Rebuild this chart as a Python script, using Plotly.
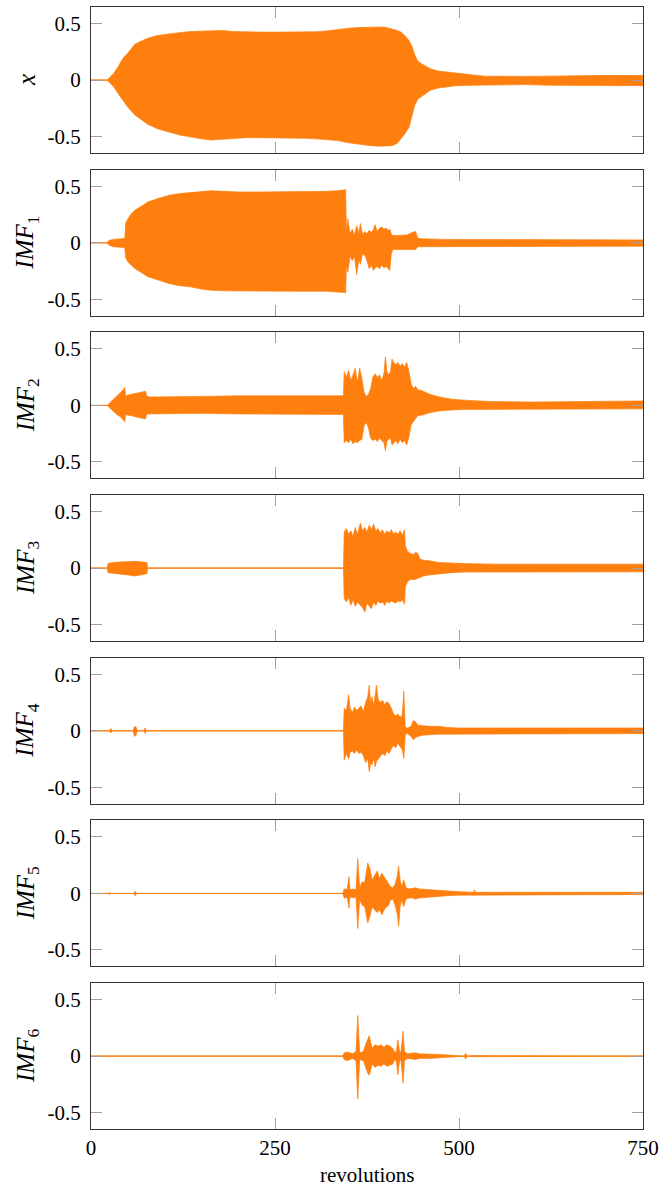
import plotly.graph_objects as go
from plotly.subplots import make_subplots

# ---------------- data (envelopes) ----------------
REV_TICKS = [0, 250, 500, 750]
REV_TICK_TEXT = ["0", "250", "500", "750"]
Y_TICKS = [-0.5, 0, 0.5]
Y_TICK_TEXT = ["-0.5", "0", "0.5"]
X_TITLE = "revolutions"
PANEL_LABELS = ["<i>x</i>", "<i>IMF</i><sub>1</sub>", "<i>IMF</i><sub>2</sub>",
                "<i>IMF</i><sub>3</sub>", "<i>IMF</i><sub>4</sub>",
                "<i>IMF</i><sub>5</sub>", "<i>IMF</i><sub>6</sub>"]

X_SIG = [0, 22, 25, 31, 37, 43, 50, 60, 70, 77, 90, 106, 120, 135, 150, 163, 180, 192, 210, 230,
         260, 290, 306, 320, 335, 350, 364, 380, 392, 400, 409, 416, 421, 427, 432, 436, 440, 444, 449, 455,
         461, 472, 484, 495, 507, 520, 535, 560, 590, 621, 650, 680, 710, 750]
UP_SIG = [0, 0, 0.02, 0.06, 0.12, 0.19, 0.24, 0.32, 0.35, 0.37, 0.395, 0.41, 0.42, 0.43, 0.435, 0.44, 0.44, 0.43, 0.425, 0.425,
          0.425, 0.425, 0.428, 0.435, 0.45, 0.46, 0.465, 0.47, 0.47, 0.468, 0.455, 0.44, 0.425, 0.39, 0.35, 0.30, 0.22, 0.17, 0.145, 0.12,
          0.10, 0.08, 0.07, 0.06, 0.05, 0.045, 0.035, 0.033, 0.033, 0.035, 0.04, 0.04, 0.042, 0.04]
LO_SIG = [0, 0, -0.02, -0.06, -0.12, -0.18, -0.24, -0.31, -0.36, -0.39, -0.43, -0.46, -0.485, -0.505, -0.52, -0.53, -0.525, -0.52, -0.51, -0.51,
          -0.51, -0.515, -0.52, -0.525, -0.535, -0.555, -0.57, -0.58, -0.585, -0.585, -0.58, -0.56, -0.52, -0.47, -0.42, -0.33, -0.22, -0.17, -0.15, -0.12,
          -0.09, -0.07, -0.06, -0.05, -0.047, -0.045, -0.04, -0.04, -0.04, -0.045, -0.045, -0.05, -0.05, -0.05]

X_IMF1 = [0, 22, 24, 30, 40, 46, 47, 50, 55, 60, 70, 77, 90, 106, 120, 135, 150, 163, 180, 200,
          230, 260, 290, 320, 335, 344, 346, 347, 349, 352, 355, 358, 361, 364, 366, 369, 372, 375, 378, 381,
          384, 386, 389, 392, 395, 398, 401, 404, 406, 408, 410, 420, 430, 436, 441, 444, 450, 480, 520, 560,
          600, 650, 700, 750]
UP_IMF1 = [0, 0, 0.02, 0.03, 0.035, 0.04, 0.17, 0.21, 0.26, 0.29, 0.33, 0.36, 0.39, 0.42, 0.435, 0.445, 0.455, 0.46, 0.455, 0.45,
           0.45, 0.45, 0.45, 0.455, 0.46, 0.47, 0.47, 0.10, 0.21, 0.08, 0.12, 0.07, 0.15, 0.09, 0.17, 0.07, 0.1, 0.08, 0.11, 0.09,
           0.12, 0.16, 0.1, 0.13, 0.14, 0.12, 0.13, 0.11, 0.12, 0.08, 0.065, 0.065, 0.07, 0.09, 0.1, 0.04, 0.035, 0.03, 0.03, 0.03,
           0.03, 0.03, 0.03, 0.025]
LO_IMF1 = [0, 0, -0.02, -0.035, -0.04, -0.045, -0.13, -0.17, -0.2, -0.23, -0.27, -0.3, -0.33, -0.36, -0.38, -0.39, -0.41, -0.42, -0.425, -0.43,
           -0.43, -0.43, -0.43, -0.43, -0.435, -0.44, -0.445, -0.2, -0.26, -0.12, -0.16, -0.12, -0.28, -0.15, -0.19, -0.1, -0.11, -0.16, -0.23, -0.2,
           -0.245, -0.22, -0.21, -0.23, -0.2, -0.22, -0.21, -0.23, -0.245, -0.1, -0.06, -0.06, -0.06, -0.06, -0.06, -0.035, -0.03, -0.03, -0.03, -0.03,
           -0.03, -0.03, -0.03, -0.03]

X_IMF2 = [0, 22, 25, 30, 35, 40, 44, 46, 47, 49, 55, 60, 65, 70, 74, 76, 80, 100, 150, 200,
          250, 300, 330, 343, 344, 347, 350, 353, 356, 359, 362, 365, 368, 371, 374, 377, 380, 383, 386, 389,
          392, 395, 398, 400, 402, 404, 407, 409, 411, 414, 417, 420, 423, 426, 429, 432, 435, 438, 441, 444,
          450, 460, 472, 490, 507, 540, 600, 650, 700, 750]
UP_IMF2 = [0, 0, 0.02, 0.05, 0.08, 0.11, 0.14, 0.16, 0.08, 0.09, 0.1, 0.11, 0.115, 0.12, 0.125, 0.08, 0.075, 0.075, 0.08, 0.085,
           0.085, 0.085, 0.085, 0.085, 0.3, 0.25, 0.31, 0.22, 0.27, 0.33, 0.2, 0.33, 0.24, 0.12, 0.08, 0.1, 0.15, 0.25, 0.28, 0.25,
           0.27, 0.22, 0.28, 0.43, 0.3, 0.27, 0.3, 0.41, 0.38, 0.36, 0.38, 0.35, 0.37, 0.34, 0.38, 0.3, 0.19, 0.15, 0.17, 0.14,
           0.13, 0.1, 0.077, 0.055, 0.047, 0.035, 0.03, 0.035, 0.035, 0.04]
LO_IMF2 = [0, 0, -0.02, -0.05, -0.08, -0.1, -0.13, -0.145, -0.075, -0.085, -0.09, -0.1, -0.11, -0.115, -0.12, -0.075, -0.075, -0.07, -0.07, -0.075,
           -0.08, -0.08, -0.08, -0.08, -0.33, -0.31, -0.33, -0.3, -0.34, -0.32, -0.33, -0.31, -0.3, -0.18, -0.15, -0.2, -0.29, -0.31, -0.3, -0.32,
           -0.29, -0.31, -0.33, -0.4, -0.32, -0.3, -0.29, -0.35, -0.33, -0.31, -0.34, -0.3, -0.33, -0.31, -0.35, -0.28, -0.17, -0.15, -0.12, -0.09,
           -0.085, -0.065, -0.05, -0.04, -0.035, -0.03, -0.03, -0.03, -0.03, -0.03]

X_IMF3 = [0, 22, 23, 30, 40, 50, 60, 70, 76, 77, 200, 343, 344, 347, 350, 353, 356, 359, 362, 366,
          369, 372, 375, 378, 381, 384, 387, 390, 393, 396, 399, 402, 405, 408, 411, 414, 417, 420, 423, 426,
          427, 430, 434, 438, 441, 444, 447, 452, 460, 472, 490, 507, 550, 600, 650, 700, 750]
UP_IMF3 = [0, 0, 0.04, 0.05, 0.055, 0.06, 0.06, 0.055, 0.05, 0, 0, 0, 0.32, 0.35, 0.3, 0.33, 0.28, 0.36, 0.3, 0.4,
           0.33, 0.36, 0.32, 0.38, 0.34, 0.39, 0.33, 0.35, 0.31, 0.34, 0.3, 0.33, 0.31, 0.34, 0.3, 0.32, 0.3, 0.33, 0.29, 0.34,
           0.2, 0.15, 0.13, 0.12, 0.14, 0.13, 0.08, 0.07, 0.065, 0.05, 0.045, 0.04, 0.035, 0.035, 0.035, 0.035, 0.035]
LO_IMF3 = [0, 0, -0.04, -0.05, -0.055, -0.06, -0.07, -0.055, -0.05, 0, 0, 0, -0.27, -0.3, -0.26, -0.33, -0.28, -0.34, -0.3, -0.33,
           -0.35, -0.39, -0.31, -0.33, -0.36, -0.3, -0.33, -0.29, -0.31, -0.3, -0.33, -0.29, -0.31, -0.29, -0.3, -0.31, -0.29, -0.3, -0.28, -0.32,
           -0.17, -0.12, -0.1, -0.1, -0.1, -0.09, -0.08, -0.07, -0.06, -0.05, -0.04, -0.035, -0.033, -0.033, -0.033, -0.033, -0.033]

X_IMF4 = [0, 25, 27, 29, 57, 59, 61, 63, 72, 73.5, 75, 343, 344, 347, 350, 352, 355, 358, 361, 364,
          367, 370, 373, 376, 378, 380, 382, 384, 386, 388, 390, 393, 396, 399, 402, 405, 408, 411, 414, 417,
          420, 423, 425, 427, 430, 435, 438, 441, 444, 450, 460, 472, 484, 500, 550, 600, 650, 700, 750]
UP_IMF4 = [0, 0, 0.02, 0, 0, 0.035, 0.035, 0, 0, 0.025, 0, 0, 0.2, 0.18, 0.32, 0.2, 0.16, 0.21, 0.18, 0.2,
           0.22, 0.17, 0.25, 0.3, 0.405, 0.25, 0.3, 0.22, 0.32, 0.405, 0.28, 0.25, 0.27, 0.23, 0.26, 0.24, 0.2, 0.15, 0.13, 0.15,
           0.12, 0.14, 0.35, 0.03, 0.025, 0.04, 0.09, 0.08, 0.05, 0.045, 0.04, 0.04, 0.03, 0.025, 0.025, 0.025, 0.025, 0.025, 0.025]
LO_IMF4 = [0, 0, -0.02, 0, 0, -0.05, -0.04, 0, 0, -0.025, 0, 0, -0.26, -0.2, -0.25, -0.19, -0.18, -0.2, -0.17, -0.2,
           -0.19, -0.22, -0.28, -0.25, -0.36, -0.29, -0.3, -0.24, -0.32, -0.27, -0.25, -0.23, -0.2, -0.22, -0.18, -0.2, -0.16, -0.13, -0.15, -0.11,
           -0.14, -0.17, -0.245, -0.03, -0.025, -0.05, -0.08, -0.06, -0.05, -0.04, -0.035, -0.03, -0.025, -0.025, -0.025, -0.025, -0.025, -0.025, -0.025]

X_IMF5 = [0, 24, 25, 26, 58, 60, 62, 342, 344, 348, 350.5, 352, 356, 360, 362.5, 365, 368, 372, 376, 379,
          382, 386, 389, 392, 395, 398, 401, 404, 407, 410, 413, 416, 418, 420, 422, 425, 428, 432, 436, 441,
          446, 455, 465, 475, 484, 500, 520, 521, 522, 560, 600, 650, 700, 750]
UP_IMF5 = [0, 0, 0.01, 0, 0, 0.02, 0, 0, 0.04, 0.035, 0.15, 0.03, 0.04, 0.03, 0.31, 0.05, 0.1, 0.1, 0.27, 0.22,
           0.12, 0.16, 0.2, 0.13, 0.18, 0.15, 0.12, 0.1, 0.06, 0.05, 0.08, 0.15, 0.24, 0.12, 0.06, 0.12, 0.05, 0.04, 0.045, 0.05,
           0.04, 0.035, 0.03, 0.03, 0.025, 0.015, 0.01, 0.033, 0.01, 0.01, 0.01, 0.01, 0.01, 0.01]
LO_IMF5 = [0, 0, -0.01, 0, 0, -0.02, 0, 0, -0.04, -0.035, -0.13, -0.03, -0.04, -0.03, -0.31, -0.05, -0.1, -0.12, -0.26, -0.2,
           -0.12, -0.15, -0.17, -0.14, -0.19, -0.15, -0.12, -0.11, -0.06, -0.05, -0.1, -0.18, -0.29, -0.12, -0.06, -0.115, -0.05, -0.04, -0.04, -0.05,
           -0.04, -0.035, -0.03, -0.025, -0.02, -0.015, -0.01, -0.01, -0.01, -0.01, -0.01, -0.01, -0.01, -0.01]

X_IMF6 = [0, 342, 344, 348, 352, 355, 360, 362.5, 365, 370, 373, 376, 378, 380, 382, 386, 390, 394, 398, 402,
          406, 410, 413, 415, 417, 419, 421, 424, 426, 430, 436, 441, 446, 460, 475, 485, 507, 509, 511, 520, 750]
UP_IMF6 = [0, 0, 0.03, 0.035, 0.03, 0.02, 0.04, 0.36, 0.03, 0.04, 0.1, 0.15, 0.18, 0.12, 0.07, 0.1, 0.09, 0.1, 0.08, 0.1,
           0.09, 0.07, 0.03, 0.05, 0.145, 0.05, 0.03, 0.22, 0.04, 0.02, 0.025, 0.03, 0.02, 0.02, 0.015, 0.01, 0, 0.025, 0, 0.005, 0]
LO_IMF6 = [0, 0, -0.03, -0.04, -0.03, -0.02, -0.04, -0.38, -0.03, -0.04, -0.1, -0.15, -0.17, -0.12, -0.07, -0.1, -0.08, -0.09, -0.07, -0.09,
           -0.08, -0.07, -0.03, -0.05, -0.165, -0.05, -0.03, -0.24, -0.04, -0.02, -0.025, -0.03, -0.02, -0.02, -0.015, -0.01, 0, -0.025, 0, -0.005, 0]

SERIES = [
    (X_SIG, UP_SIG, LO_SIG),
    (X_IMF1, UP_IMF1, LO_IMF1),
    (X_IMF2, UP_IMF2, LO_IMF2),
    (X_IMF3, UP_IMF3, LO_IMF3),
    (X_IMF4, UP_IMF4, LO_IMF4),
    (X_IMF5, UP_IMF5, LO_IMF5),
    (X_IMF6, UP_IMF6, LO_IMF6),
]

# ---------------- style ----------------
ORANGE = "#ff7f0e"
FONT = "Liberation Serif"
W, H = 665, 1190
ML, MR, MT, MB = 91, 19, 6, 61
GAP = 16.7
n = len(SERIES)
plot_h = H - MT - MB

fig = make_subplots(rows=n, cols=1, shared_xaxes=True,
                    vertical_spacing=GAP / plot_h)

for i, (xs, up, lo) in enumerate(SERIES):
    r = i + 1
    # baseline of the signal
    fig.add_trace(go.Scatter(x=[xs[0], xs[-1]], y=[0, 0], mode="lines",
                             line=dict(color=ORANGE, width=1), hoverinfo="skip",
                             showlegend=False), row=r, col=1)
    # oscillation envelope
    fig.add_trace(go.Scatter(x=list(xs) + list(xs)[::-1],
                             y=list(up) + list(lo)[::-1],
                             mode="lines", fill="toself", fillcolor=ORANGE,
                             line=dict(color=ORANGE, width=0.7),
                             showlegend=False), row=r, col=1)
    fig.update_yaxes(range=[-0.645, 0.647], tickvals=Y_TICKS, ticktext=Y_TICK_TEXT,
                     row=r, col=1)
    fig.update_xaxes(range=[0, 750], tickvals=REV_TICKS, ticktext=REV_TICK_TEXT,
                     showticklabels=(r == n), row=r, col=1)
    yname = "y" if r == 1 else f"y{r}"
    fig.add_annotation(text=PANEL_LABELS[i], textangle=-90, showarrow=False,
                       xref="paper", x=0, xanchor="center", xshift=-64,
                       yref=f"{yname} domain", y=0.5, yanchor="middle",
                       font=dict(family=FONT, size=25, color="black"))

axis_style = dict(showline=True, linecolor="#333333", linewidth=1, mirror="ticks",
                  ticks="inside", ticklen=11, tickcolor="#a0a0a0", tickwidth=1,
                  showgrid=False, zeroline=False,
                  tickfont=dict(family=FONT, size=21, color="black"))
fig.update_xaxes(**axis_style)
fig.update_yaxes(**axis_style)
fig.update_yaxes(ticklabelstandoff=5)

fig.add_annotation(text=X_TITLE, showarrow=False, xref="paper", x=0.5,
                   yref="paper", y=0, yanchor="middle", yshift=-46,
                   font=dict(family=FONT, size=21, color="black"))

fig.update_layout(width=W, height=H, margin=dict(l=ML, r=MR, t=MT, b=MB),
                  plot_bgcolor="white", paper_bgcolor="white",
                  font=dict(family=FONT, size=21, color="black"),
                  showlegend=False)

fig.write_html("out.html", config={"displayModeBar": False},
               post_script="document.body.style.margin='0';document.body.style.overflow='hidden';")
